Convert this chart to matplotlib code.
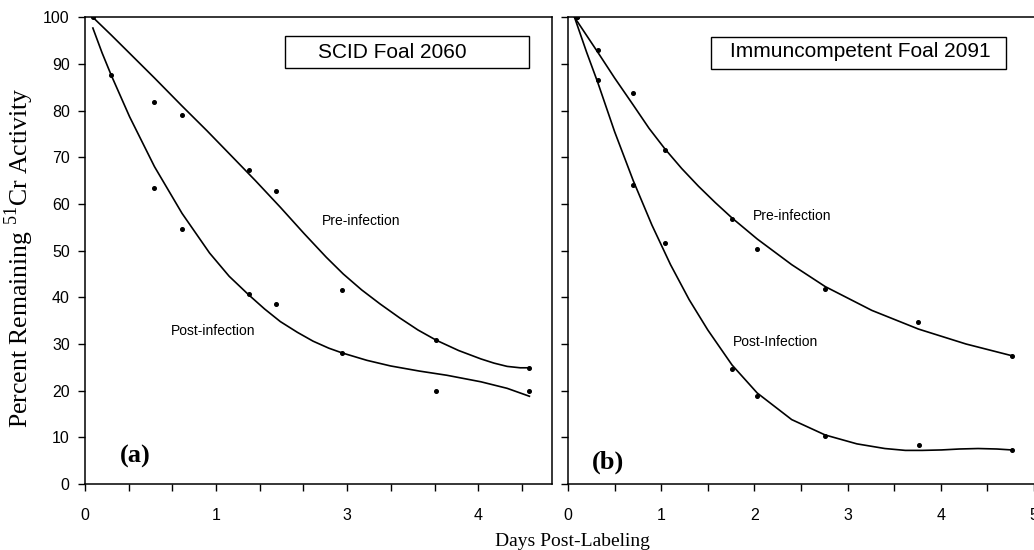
import numpy as np
import matplotlib
matplotlib.use('Agg')
import matplotlib.pyplot as plt
from matplotlib.patches import Rectangle

# panel (a): SCID foal 2060, x in axis units (ticks labelled 0,1,3,4)
a_pre_x = [0.06, 0.53, 0.74, 1.25, 1.46, 1.96, 2.68, 3.39]
a_pre_y = [100.0, 81.9, 79.0, 67.2, 62.8, 41.5, 30.8, 24.9]
a_post_x = [0.20, 0.53, 0.74, 1.25, 1.46, 1.96, 2.68, 3.39]
a_post_y = [87.6, 63.4, 54.6, 40.8, 38.5, 28.0, 20.0, 20.0]
# fitted curves
a_pre_fit_x = [0.06, 0.20, 0.34, 0.53, 0.74, 0.93, 1.11, 1.30, 1.49, 1.67, 1.84, 1.97,
               2.11, 2.25, 2.40, 2.54, 2.68, 2.85, 3.02, 3.12, 3.22, 3.32, 3.39]
a_pre_fit_y = [100.0, 96.2, 92.3, 87.0, 81.0, 75.7, 70.5, 65.0, 59.3, 53.7, 48.6, 45.0,
               41.6, 38.6, 35.6, 33.0, 30.8, 28.6, 26.8, 25.9, 25.2, 24.9, 24.9]
a_post_fit_x = [0.06, 0.13, 0.20, 0.34, 0.53, 0.74, 0.95, 1.10, 1.25, 1.37, 1.49, 1.62,
                1.74, 1.86, 1.96, 2.15, 2.33, 2.55, 2.76, 3.02, 3.22, 3.39]
a_post_fit_y = [97.7, 92.4, 87.6, 78.7, 68.0, 58.0, 49.5, 44.5, 40.5, 37.5, 34.8, 32.5,
                30.6, 29.1, 28.1, 26.5, 25.3, 24.2, 23.3, 21.9, 20.5, 18.8]
a_ticks = [0, 1, 2, 3]
a_ticklabels = ['0', '1', '3', '4']

# panel (b): immunocompetent foal 2091
b_pre_x = [0.10, 0.32, 0.70, 1.04, 1.76, 2.03, 2.76, 3.76, 4.76]
b_pre_y = [100.0, 92.9, 83.7, 71.5, 56.7, 50.3, 41.7, 34.7, 27.4]
b_post_x = [0.10, 0.32, 0.70, 1.04, 1.76, 2.03, 2.76, 3.77, 4.76]
b_post_y = [100.0, 86.5, 64.0, 51.6, 24.6, 18.8, 10.3, 8.4, 7.3]
b_pre_fit_x = [0.07, 0.32, 0.50, 0.70, 0.87, 1.04, 1.22, 1.40, 1.58, 1.76, 2.03, 2.40,
               2.76, 3.26, 3.76, 4.27, 4.76]
b_pre_fit_y = [100.0, 92.5, 87.0, 81.2, 76.2, 71.8, 67.6, 63.8, 60.3, 57.0, 52.5, 47.0,
               42.3, 37.2, 33.2, 30.0, 27.5]
b_post_fit_x = [0.07, 0.20, 0.32, 0.50, 0.70, 0.90, 1.10, 1.30, 1.50, 1.76, 2.03, 2.40,
                2.76, 3.10, 3.40, 3.62, 3.80, 4.01, 4.20, 4.40, 4.60, 4.76]
b_post_fit_y = [100.0, 92.5, 86.0, 75.5, 65.0, 55.5, 47.0, 39.5, 33.0, 25.5, 19.5, 13.8,
                10.5, 8.6, 7.6, 7.2, 7.2, 7.3, 7.5, 7.6, 7.5, 7.3]

sans = 'Liberation Sans'
serif = 'Liberation Serif'
plt.rcParams['font.family'] = sans
plt.rcParams['axes.linewidth'] = 1.1

fig = plt.figure(figsize=(10.34, 5.5), dpi=100)
W, H = 1034.0, 550.0
axa = fig.add_axes([85 / W, 1 - 484 / H, 466.7 / W, 466.7 / H])
axb = fig.add_axes([568 / W, 1 - 484 / H, 466 / W, 466.7 / H])


def style(ax):
    ax.set_ylim(0, 100)
    ax.set_yticks(np.arange(0, 101, 10))
    ax.tick_params(which='both', direction='out', length=5, width=1.0,
                   labelsize=11.5, colors='black')
    ax.tick_params(axis='x', pad=12)
    ax.tick_params(axis='y', pad=6)


# (a)
axa.plot(a_pre_fit_x, a_pre_fit_y, color='black', lw=1.2)
axa.plot(a_post_fit_x, a_post_fit_y, color='black', lw=1.2)
axa.plot(a_pre_x, a_pre_y, 'o', color='black', ms=2.6)
axa.plot(a_post_x, a_post_y, 'o', color='black', ms=2.6)
axa.set_xlim(0, 3.56)
axa.set_xticks(a_ticks)
axa.set_xticklabels(a_ticklabels)
axa.set_xticks(np.arange(1, 11) / 3.0, minor=True)
style(axa)
axa.add_patch(Rectangle((0.4286, 0.891), 0.5225, 0.069, transform=axa.transAxes,
                        fill=False, ec='black', lw=1.0))
axa.text(0.658, 0.925, 'SCID Foal 2060', transform=axa.transAxes,
         ha='center', va='center', fontsize=15)
axa.text(2.11, 56.4, 'Pre-infection', ha='center', va='center', fontsize=10)
axa.text(0.98, 32.8, 'Post-infection', ha='center', va='center', fontsize=10)
axa.text(0.38, 6.0, '(a)', ha='center', va='center', fontsize=19,
         fontweight='bold', family=serif)

# (b)
axb.plot(b_pre_fit_x, b_pre_fit_y, color='black', lw=1.2)
axb.plot(b_post_fit_x, b_post_fit_y, color='black', lw=1.2)
axb.plot(b_pre_x, b_pre_y, 'o', color='black', ms=2.6)
axb.plot(b_post_x, b_post_y, 'o', color='black', ms=2.6)
axb.set_xlim(0, 5)
axb.set_xticks([0, 1, 2, 3, 4, 5])
axb.set_xticks(np.arange(0.5, 5, 1.0), minor=True)
style(axb)
axb.tick_params(axis='y', labelleft=False)
axb.spines['right'].set_visible(False)
axb.add_patch(Rectangle((0.306, 0.889), 0.634, 0.069, transform=axb.transAxes,
                        fill=False, ec='black', lw=1.0))
axb.text(0.627, 0.926, 'Immuncompetent Foal 2091', transform=axb.transAxes,
         ha='center', va='center', fontsize=15)
axb.text(2.40, 57.4, 'Pre-infection', ha='center', va='center', fontsize=10)
axb.text(2.23, 30.4, 'Post-Infection', ha='center', va='center', fontsize=10)
axb.text(0.43, 4.7, '(b)', ha='center', va='center', fontsize=19,
         fontweight='bold', family=serif)

fig.text(572 / W, 1 - 541 / H, 'Days Post-Labeling', ha='center', va='center',
         fontsize=14, family=serif)
fig.text(19 / W, 1 - 258 / H, r'Percent Remaining $^{\mathregular{51}}$Cr Activity',
         ha='center', va='center', rotation=90, fontsize=18.5, family=serif)

fig.savefig('out.png', dpi=100)
